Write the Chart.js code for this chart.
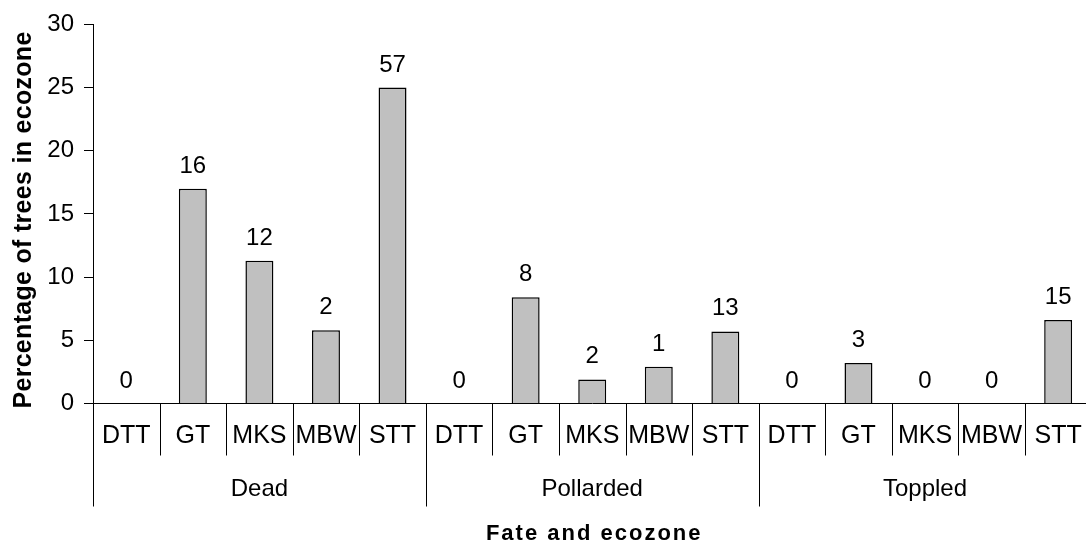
<!DOCTYPE html>
<html>
<head>
<meta charset="utf-8">
<script src="https://cdn.jsdelivr.net/npm/chart.js@4/dist/chart.umd.min.js"></script>
<style>
  html, body { margin: 0; padding: 0; background: #fff; overflow: hidden; }
  #wrap { width: 1086px; height: 546px; overflow: hidden; }
</style>
</head>
<body>
<div id="wrap"><canvas id="chart" width="1100" height="546"></canvas></div>
<script>
// Fates (groups) and ecozones (bars in each group)
const fates = ['Dead', 'Pollarded', 'Toppled'];
const ecozones = ['DTT', 'GT', 'MKS', 'MBW', 'STT'];

// Percentage of trees in ecozone (bar heights)
const deadPct = [0, 17.0, 11.3, 5.8, 25.0];
const pollardedPct = [0, 8.4, 1.9, 2.9, 5.7];
const toppledPct = [0, 3.2, 0, 0, 6.6];

// Number of trees (labels above bars)
const deadCount = [0, 16, 12, 2, 57];
const pollardedCount = [0, 8, 2, 1, 13];
const toppledCount = [0, 3, 0, 0, 15];

const yTicks = [0, 5, 10, 15, 20, 25, 30];

const xTitle = 'Fate and ecozone';
const yTitle = 'Percentage of trees in ecozone';

const FONT = '"Liberation Sans", Arial, Helvetica, sans-serif';

const labels = [];
fates.forEach(() => ecozones.forEach(z => labels.push(z)));
const values = [...deadPct, ...pollardedPct, ...toppledPct];
const counts = [...deadCount, ...pollardedCount, ...toppledCount];

// Value labels, separators, group labels and axis titles
const extrasPlugin = {
    id: 'extras',
    afterDatasetsDraw(chart) {
        const ctx = chart.ctx;
        const meta = chart.getDatasetMeta(0);
        ctx.save();
        ctx.fillStyle = '#000';
        ctx.font = '24px ' + FONT;
        ctx.textAlign = 'center';
        ctx.textBaseline = 'alphabetic';
        meta.data.forEach((bar, i) => {
            ctx.fillText(String(counts[i]), bar.x, bar.y - 16);
        });
        ctx.restore();
    },
    afterDraw(chart) {
        const ctx = chart.ctx;
        const x = chart.scales.x;
        const area = chart.chartArea;
        const n = labels.length;
        const step = (x.getPixelForTick(1) - x.getPixelForTick(0));
        ctx.save();
        ctx.strokeStyle = '#000';
        ctx.lineWidth = 1;
        for (let i = 0; i <= n; i++) {
            const px = Math.round(x.getPixelForTick(0) - step / 2 + i * step) + 0.5;
            const isGroup = i % ecozones.length === 0;
            ctx.beginPath();
            ctx.moveTo(px, area.bottom);
            ctx.lineTo(px, isGroup ? area.bottom + 103 : area.bottom + 52);
            ctx.stroke();
        }
        ctx.fillStyle = '#000';
        ctx.font = '24px ' + FONT;
        ctx.textAlign = 'center';
        ctx.textBaseline = 'middle';
        fates.forEach((f, g) => {
            const a = x.getPixelForTick(g * ecozones.length);
            const b = x.getPixelForTick(g * ecozones.length + ecozones.length - 1);
            ctx.fillText(f, (a + b) / 2, area.bottom + 86);
        });

        // x axis title
        ctx.font = 'bold 22px ' + FONT;
        ctx.textBaseline = 'alphabetic';
        ctx.letterSpacing = '2px';
        ctx.fillText(xTitle, (area.left + area.right) / 2 + 2, 540);

        // y axis title
        ctx.font = 'bold 25px ' + FONT;
        ctx.letterSpacing = '0.3px';
        ctx.translate(31, (area.top + area.bottom) / 2 + 6);
        ctx.rotate(-Math.PI / 2);
        ctx.fillText(yTitle, 0, 0);
        ctx.restore();
    }
};

new Chart(document.getElementById('chart'), {
    type: 'bar',
    data: {
        labels: labels,
        datasets: [{
            data: values,
            backgroundColor: '#c0c0c0',
            borderColor: '#000',
            borderWidth: 1.5,
            barPercentage: 0.42,
            categoryPercentage: 1.0
        }]
    },
    options: {
        responsive: false,
        animation: false,
        layout: { padding: { left: 0, right: 7, top: 24, bottom: 0 } },
        plugins: {
            legend: { display: false },
            tooltip: { enabled: false }
        },
        scales: {
            x: {
                offset: true,
                grid: { display: false, drawTicks: false },
                border: { display: true, color: '#000', width: 1 },
                ticks: {
                    color: '#000',
                    font: { family: FONT, size: 25 },
                    padding: 18,
                    maxRotation: 0,
                    autoSkip: false
                },
                afterFit: (scale) => { scale.height = 142.5; }
            },
            y: {
                min: 0,
                max: 30,
                afterBuildTicks: (scale) => { scale.ticks = yTicks.map(v => ({ value: v })); },
                grid: { drawOnChartArea: false, drawTicks: true, tickLength: 9, color: '#000' },
                border: { display: true, color: '#000', width: 1 },
                ticks: {
                    color: '#000',
                    font: { family: FONT, size: 24 },
                    padding: 10
                },
                afterFit: (scale) => { scale.width = 93; }
            }
        }
    },
    plugins: [extrasPlugin]
});
</script>
</body>
</html>
